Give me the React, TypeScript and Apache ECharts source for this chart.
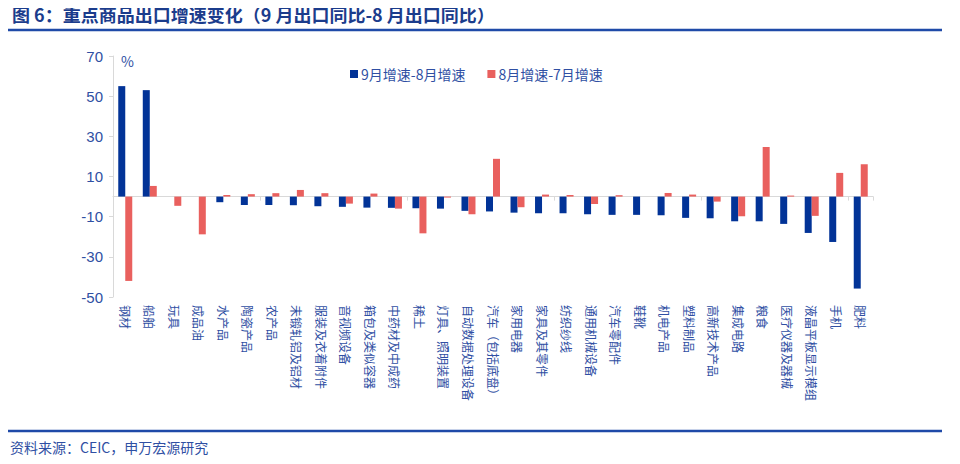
import React, { useEffect, useRef } from "react";
import * as echarts from "echarts";

const categories = [
  "钢材", "船舶", "玩具", "成品油", "水产品", "陶瓷产品", "农产品", "未锻轧铝及铝材",
  "服装及衣着附件", "音视频设备", "箱包及类似容器", "中药材及中成药", "稀土", "灯具、照明装置",
  "自动数据处理设备", "汽车（包括底盘）", "家用电器", "家具及其零件", "纺织纱线", "通用机械设备",
  "汽车零配件", "鞋靴", "机电产品", "塑料制品", "高新技术产品", "集成电路", "粮食",
  "医疗仪器及器械", "液晶平板显示模组", "手机", "肥料",
];

const sepMinusAug = [
  55, 53, 0, 0, -2.8, -4.2, -4.2, -4.3, -4.8, -5.1, -5.5, -5.6, -5.8, -6.0,
  -7.1, -7.4, -8.0, -8.3, -8.3, -8.8, -9.1, -9.1, -9.3, -10.6, -10.8, -12.3, -12.3,
  -13.6, -18.1, -22.6, -45.8,
];

const augMinusJul = [
  -42, 5.3, -4.6, -18.8, 0.8, 1.2, 1.7, 3.3, 1.7, -3.5, 1.5, -6.0, -18.3, -0.5,
  -8.8, 18.8, -5.3, 1.0, 0.8, -3.7, 0.7, 0, 1.8, 1.0, -2.5, -9.8, 24.7,
  0.5, -9.6, 11.8, 16.1,
];

const seriesNames = ["9月增速-8月增速", "8月增速-7月增速"];
const yMin = -50;
const yMax = 70;
const yInterval = 20;

const BLUE = "#023397";
const RED = "#E9605E";
const TEXT_BLUE = "#2F4FA3";
const TITLE_BLUE = "#1B3C8C";
const FONT = "'Noto Sans CJK SC', 'Noto Sans', sans-serif";

export default function App() {
  const ref = useRef<HTMLDivElement>(null);
  useEffect(() => {
    if (!ref.current) return;
    const chart = echarts.init(ref.current, undefined, { renderer: "svg" });
    chart.setOption({
      animation: false,
      backgroundColor: "#ffffff",
      textStyle: { fontFamily: FONT },
      graphic: [
        {
          type: "text",
          left: 12,
          top: 5,
          style: {
            text: "图 6：重点商品出口增速变化（9 月出口同比-8 月出口同比）",
            fill: TITLE_BLUE,
            font: `bold 18px ${FONT}`,
          },
        },
        {
          type: "line",
          shape: { x1: 8, y1: 30, x2: 942, y2: 30 },
          style: { stroke: "#1F4AA8", lineWidth: 2.5 },
        },
        {
          type: "line",
          shape: { x1: 8, y1: 431, x2: 942, y2: 431 },
          style: { stroke: "#1F4AA8", lineWidth: 2.5 },
        },
        {
          type: "text",
          left: 10,
          top: 440,
          style: {
            text: "资料来源：CEIC，申万宏源研究",
            fill: TEXT_BLUE,
            font: `14px ${FONT}`,
          },
        },
        {
          type: "text",
          left: 121,
          top: 54,
          style: { text: "%", fill: TEXT_BLUE, font: `14px ${FONT}` },
        },
      ],
      legend: {
        left: 345,
        top: 62,
        itemWidth: 8,
        itemHeight: 8,
        itemGap: 22,
        icon: "rect",
        textStyle: { color: TEXT_BLUE, fontSize: 14, fontFamily: FONT, padding: [0, 0, 0, -2] },
        data: seriesNames,
      },
      grid: { left: 113, right: 87, top: 56, bottom: 167, containLabel: false },
      xAxis: [
        {
          type: "category",
          data: categories,
          axisLine: { onZero: true, lineStyle: { color: "#D9D9D9", width: 1 } },
          axisTick: { show: true, length: 4, lineStyle: { color: "#D9D9D9" } },
          axisLabel: { show: false },
        },
        {
          type: "category",
          data: categories,
          position: "bottom",
          axisLine: { show: false, onZero: false },
          axisTick: { show: false },
          axisLabel: {
            show: true,
            rotate: -90,
            interval: 0,
            margin: 8,
            color: TEXT_BLUE,
            fontSize: 12,
            fontFamily: FONT,
          },
        },
      ],
      yAxis: {
        type: "value",
        min: yMin,
        max: yMax,
        interval: yInterval,
        axisLine: { show: true, lineStyle: { color: "#D9D9D9" } },
        axisTick: { show: true, length: 4, lineStyle: { color: "#D9D9D9" } },
        splitLine: { show: false },
        axisLabel: { color: TEXT_BLUE, fontSize: 15, fontFamily: "'Liberation Sans', Arial, sans-serif", margin: 10 },
      },
      series: [
        {
          name: seriesNames[0],
          type: "bar",
          xAxisIndex: 0,
          data: sepMinusAug,
          barWidth: 7,
          barGap: "0%",
          itemStyle: { color: BLUE },
        },
        {
          name: seriesNames[1],
          type: "bar",
          xAxisIndex: 0,
          data: augMinusJul,
          barWidth: 7,
          barGap: "0%",
          itemStyle: { color: RED },
        },
      ],
    });
    return () => chart.dispose();
  }, []);
  return <div ref={ref} style={{ width: 960, height: 464, margin: -8 }} />;
}
